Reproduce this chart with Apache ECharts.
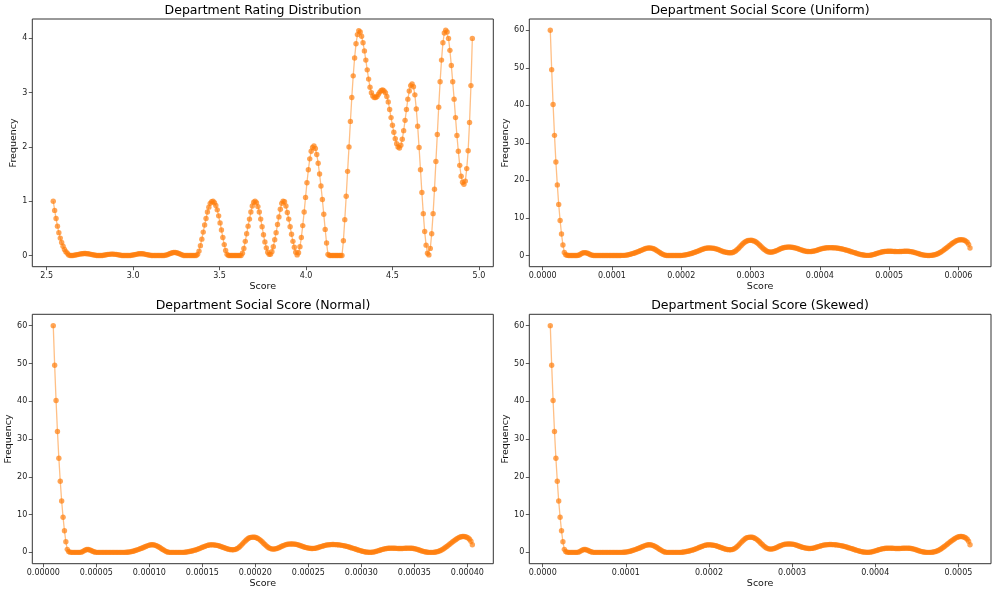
<!DOCTYPE html>
<html><head><meta charset="utf-8">
<script src="https://cdn.jsdelivr.net/npm/echarts@6/dist/echarts.min.js"></script>
<style>html,body{margin:0;padding:0;background:#fff}#c{width:996px;height:595px}</style>
</head><body><div id="c"></div>
<script>
// ---- Data ----
const ratingFreq = [
1.0,0.83,0.68,0.54,0.42,0.32,0.24,0.17,0.11,0.07,0.04,0.01,
0,0,0,0.005,0.01,0.015,0.02,0.025,0.03,
0.03,0.035,0.035,0.03,0.03,0.025,0.02,0.015,0.01,0.005,
0,0,0,0,0,0.005,0.01,0.015,0.02,
0.02,0.025,0.025,0.025,0.02,0.02,0.015,0.01,0.005,0,
0,0,0,0,0,0,0.005,0.01,0.015,0.02,
0.025,0.03,0.03,0.03,0.03,0.025,0.02,0.015,0.01,0.005,
0,0,0,0,0,0,0,0,0,0,
0.005,0.01,0.02,0.03,0.04,0.05,0.055,0.055,0.05,0.04,
0.03,0.02,0.01,0,0,0,0,0,0,0,0,0,0,
0.02,0.08,0.18,0.30,0.43,0.56,0.68,0.80,0.89,0.96,0.99,1.0,0.97,0.92,0.84,0.73,0.60,0.47,0.33,0.20,0.09,0.02,
0,0,0,0,0,0,0,0,0,0,
0.04,0.13,0.26,0.40,0.54,0.67,0.80,0.91,0.98,1.0,0.97,0.9,0.8,0.67,0.53,0.38,0.25,0.14,0.06,0.02,
0.02,0.07,0.16,0.29,0.42,0.57,0.71,0.85,0.96,1.0,0.99,0.91,0.79,0.67,0.53,0.39,0.26,0.15,0.06,
0.01,0.05,0.16,0.33,0.55,0.8,1.07,1.34,1.58,1.78,1.92,1.99,2.02,1.97,1.86,1.70,1.5,1.28,1.03,0.76,0.48,0.23,0.02,
0,0,0,0,0,0,0,0,0,0,
0.27,0.66,1.09,1.55,2.0,2.47,2.91,3.31,3.64,3.9,4.07,4.14,
4.12,4.04,3.92,3.77,3.60,3.42,3.25,3.10,3.0,2.94,2.91,2.91,2.93,2.97,3.01,3.04,3.05,
3.03,3.0,2.93,2.83,2.69,2.54,2.40,2.27,2.15,2.06,2.0,1.98,2.03,2.14,2.3,2.49,2.69,2.88,3.03,3.13,3.16,
3.11,2.96,2.70,2.38,1.99,1.58,1.16,0.77,0.44,0.19,0.04,0.01,
0.13,0.40,0.77,1.22,1.73,2.23,2.73,3.2,3.6,3.92,4.10,4.15,
4.12,4.0,3.78,3.5,3.2,2.88,2.54,2.21,1.92,1.66,1.46,1.35,1.31,1.37,1.6,1.93,2.45,3.13,4.0
];
const socialFreq = [
60,49.5,40.2,32.0,24.9,18.8,13.6,9.3,5.7,2.8,0.8,
0.2,0.05,0,0,0,0,0,0,0,0.05,
0.2,0.45,0.65,0.75,0.75,0.65,0.5,0.3,0.15,0.05,0,
0,0,0,0,0,0,0,0,0,0,0,0,0,0,0,0,0,0,0,0.01,0.02,
0.03,0.08,0.14,0.22,0.31,0.42,0.54,0.67,0.8,0.94,1.08,1.23,1.4,1.56,1.72,1.85,1.95,2.0,2.0,1.95,1.85,1.7,1.5,1.27,1.03,0.78,0.54,0.33,0.16,0.05,
0,0,0,0,0,0,0,0,0,0,0,
0.03,0.08,0.14,0.21,0.29,0.38,0.48,0.59,0.71,0.84,0.98,1.13,1.28,1.43,1.58,1.72,1.84,1.93,1.98,2.0,1.99,1.96,1.91,1.84,1.75,1.63,1.5,1.36,1.21,1.07,0.95,0.85,0.77,0.72,0.7,0.72,
0.8,0.97,1.2,1.5,1.85,2.25,2.65,3.03,3.37,3.65,3.85,3.97,4.02,4.03,3.98,3.87,3.7,3.45,3.15,2.8,2.43,2.07,1.73,1.43,1.18,1.0,0.9,
0.87,0.9,0.98,1.1,1.25,1.42,1.6,1.77,1.92,2.04,2.13,2.19,2.22,2.23,2.22,2.19,2.13,2.05,1.95,1.83,1.7,1.56,1.43,1.31,1.21,1.13,1.07,1.04,1.03,
1.05,1.1,1.18,1.28,1.4,1.52,1.64,1.75,1.85,1.93,1.99,2.03,2.06,2.07,2.07,2.06,2.04,2.01,1.97,1.92,1.86,1.79,1.71,1.62,1.52,1.41,1.3,1.18,1.06,0.94,0.82,0.7,0.58,0.47,0.36,0.26,0.17,0.1,0.05,0.02,0.01,
0.02,0.06,0.13,0.22,0.33,0.45,0.57,0.69,0.8,0.9,0.98,1.04,1.08,1.1,1.11,1.11,1.1,1.08,1.06,1.04,1.03,1.03,1.04,1.06,1.08,1.1,1.11,1.11,1.1,1.07,1.02,0.95,0.86,0.75,0.63,0.5,0.38,0.27,0.17,0.09,0.04,0.01,0,0,
0.01,0.04,0.1,0.19,0.31,0.46,0.64,0.85,1.09,1.35,1.63,1.92,2.22,2.52,2.82,3.1,3.37,3.62,3.84,4.02,4.14,4.2,4.2,4.15,4.03,3.82,3.5,2.95,2.0
];
// score ranges of the evenly spaced sample points (first, last)
const ratingScoreRange  = [2.538, 4.962];
const uniformScoreRange = [0.0000110, 0.0006167];
const normalScoreRange  = [0.0000094, 0.0004047];
const skewedScoreRange  = [0.0000091, 0.0005140];

const titles = ['Department Rating Distribution','Department Social Score (Uniform)','Department Social Score (Normal)','Department Social Score (Skewed)'];
const ratingTicks = [2.5,3.0,3.5,4.0,4.5,5.0];
const ratingTickLabels = ['2.5','3.0','3.5','4.0','4.5','5.0'];
const uniformTicks = [0,0.0001,0.0002,0.0003,0.0004,0.0005,0.0006];
const uniformTickLabels = ['0.0000','0.0001','0.0002','0.0003','0.0004','0.0005','0.0006'];
const normalTicks = [0,0.00005,0.0001,0.00015,0.0002,0.00025,0.0003,0.00035,0.0004];
const normalTickLabels = ['0.00000','0.00005','0.00010','0.00015','0.00020','0.00025','0.00030','0.00035','0.00040'];
const skewedTicks = [0,0.0001,0.0002,0.0003,0.0004,0.0005];
const skewedTickLabels = ['0.0000','0.0001','0.0002','0.0003','0.0004','0.0005'];
const ratingFreqTicks = [0,1,2,3,4];
const socialFreqTicks = [0,10,20,30,40,50,60];

// ---- build ----
function pairs(range, ys){
  const n = ys.length, step = (range[1]-range[0])/(n-1);
  return ys.map((y,i)=>[range[0]+i*step, y]);
}
function pad(lo, hi){ const m=(hi-lo)*0.05; return [lo-m, hi+m]; }

const panels = [
  {grid:{left:32.3, top:19, width:461, height:247.7}, data:pairs(ratingScoreRange, ratingFreq), xr:ratingScoreRange, xt:ratingTicks, xl:ratingTickLabels, yt:ratingFreqTicks, yMax:Math.max(...ratingFreq), yGap:11, cx:263},
  {grid:{left:529.3, top:19, width:461.7, height:247.7}, data:pairs(uniformScoreRange, socialFreq), xr:uniformScoreRange, xt:uniformTicks, xl:uniformTickLabels, yt:socialFreqTicks, yMax:Math.max(...socialFreq), yGap:16, cx:760},
  {grid:{left:32.3, top:314.3, width:461, height:249.4}, data:pairs(normalScoreRange, socialFreq), xr:normalScoreRange, xt:normalTicks, xl:normalTickLabels, yt:socialFreqTicks, yMax:Math.max(...socialFreq), yGap:16, cx:263},
  {grid:{left:529.3, top:314.3, width:461.7, height:249.4}, data:pairs(skewedScoreRange, socialFreq), xr:skewedScoreRange, xt:skewedTicks, xl:skewedTickLabels, yt:socialFreqTicks, yMax:Math.max(...socialFreq), yGap:16, cx:760}
];

const FONT = 'DejaVu Sans';
const grids=[], xAxes=[], yAxes=[], series=[], graphics=[];
panels.forEach((p,k)=>{
  grids.push(Object.assign({show:true, borderColor:'#333', borderWidth:1, containLabel:false}, p.grid));
  const xb = pad(p.xr[0], p.xr[1]);
  const yb = pad(0, p.yMax);
  xAxes.push({type:'value', gridIndex:k, position:'bottom', min:xb[0], max:xb[1],
    name:'Score', nameLocation:'middle', nameGap:15,
    nameTextStyle:{fontFamily:FONT, fontSize:9.5, color:'#111', verticalAlign:'top'},
    axisLine:{show:false, onZero:false}, splitLine:{show:false},
    axisTick:{show:true, inside:false, length:3.5, lineStyle:{color:'#333', width:0.8}, customValues:p.xt},
    axisLabel:{fontFamily:FONT, fontSize:8, color:'#222', margin:5, customValues:p.xt, showMinLabel:true, showMaxLabel:true,
      formatter:(v)=>{let bi=0,bd=Infinity;p.xt.forEach((t,i)=>{const d=Math.abs(t-v);if(d<bd){bd=d;bi=i;}});return p.xl[bi];}}
  });
  yAxes.push({type:'value', gridIndex:k, position:'left', min:yb[0], max:yb[1],
    name:'Frequency', nameLocation:'middle', nameGap:p.yGap, nameRotate:90,
    nameTextStyle:{fontFamily:FONT, fontSize:9.5, color:'#111'},
    axisLine:{show:false, onZero:false}, splitLine:{show:false},
    axisTick:{show:true, inside:false, length:3.5, lineStyle:{color:'#333', width:0.8}, customValues:p.yt},
    axisLabel:{fontFamily:FONT, fontSize:8, color:'#222', margin:5, customValues:p.yt, formatter:(v)=>String(Math.round(v))}
  });
  series.push({type:'line', xAxisIndex:k, yAxisIndex:k, data:p.data,
    showSymbol:true, showAllSymbol:true, symbol:'circle', symbolSize:5.4,
    itemStyle:{color:'#ff7f0e', opacity:0.7, borderWidth:0},
    lineStyle:{color:'#ff8a20', width:1.3, opacity:0.55},
    emphasis:{disabled:true}, animation:false, clip:false});
  graphics.push({type:'text', x:p.cx, y:p.grid.top-15, style:{text:titles[k], fontFamily:FONT, fontSize:12.5, fill:'#000', textAlign:'center', textVerticalAlign:'top'}});
});

const chart = echarts.init(document.getElementById('c'), null, {renderer:'canvas'});
chart.setOption({animation:false, backgroundColor:'#fff', grid:grids, xAxis:xAxes, yAxis:yAxes, series:series, graphic:graphics});
</script></body></html>
